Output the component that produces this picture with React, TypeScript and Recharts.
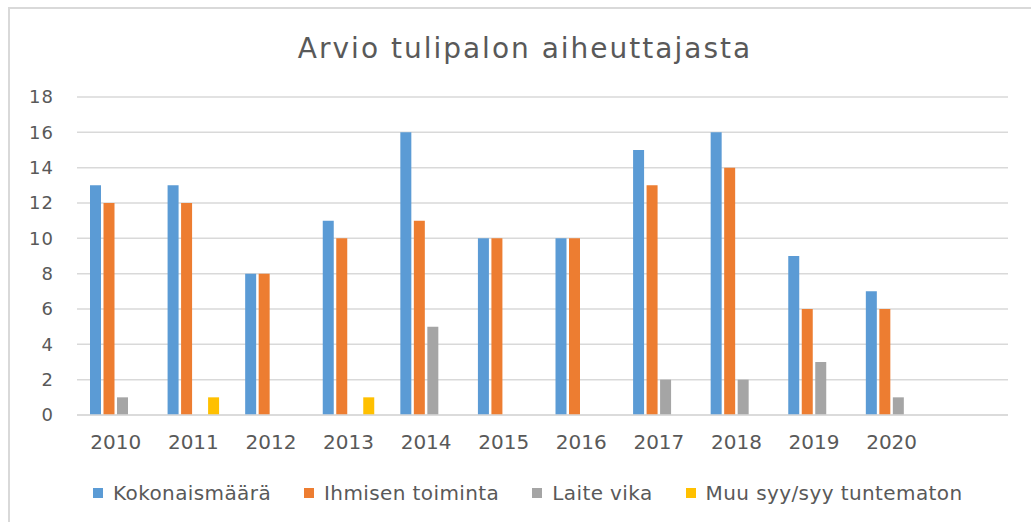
import { BarChart, Bar, XAxis, YAxis, CartesianGrid, Legend } from 'recharts'

const years = ['2010', '2011', '2012', '2013', '2014', '2015', '2016', '2017', '2018', '2019', '2020', '']
const kokonaismaara = [13, 13, 8, 11, 16, 10, 10, 15, 16, 9, 7, null]
const ihmisenToiminta = [12, 12, 8, 10, 11, 10, 10, 13, 14, 6, 6, null]
const laiteVika = [1, 0, 0, 0, 5, 0, 0, 2, 2, 3, 1, null]
const muuSyy = [0, 1, 0, 1, 0, 0, 0, 0, 0, 0, 0, null]
const yTicks = [0, 2, 4, 6, 8, 10, 12, 14, 16, 18]

const series = [
  { key: 'kokonais', name: 'Kokonaismäärä', color: '#5B9BD5' },
  { key: 'ihminen', name: 'Ihmisen toiminta', color: '#ED7D31' },
  { key: 'laite', name: 'Laite vika', color: '#A5A5A5' },
  { key: 'muu', name: 'Muu syy/syy tuntematon', color: '#FFC000' },
]

const data = years.map((year, i) => ({
  year,
  kokonais: kokonaismaara[i],
  ihminen: ihmisenToiminta[i],
  laite: laiteVika[i],
  muu: muuSyy[i],
}))

const font = '"DejaVu Sans", sans-serif'
const textColor = '#595959'

function LegendContent() {
  return (
    <div style={{ display: 'flex', height: 30, alignItems: 'center', fontFamily: font }}>
      {series.map((s) => (
        <div key={s.key} style={{ display: 'flex', alignItems: 'center', marginRight: 33 }}>
          <span style={{ width: 10, height: 10, background: s.color, marginRight: 10 }} />
          <span style={{ fontSize: 20, color: textColor, letterSpacing: 0.4 }}>{s.name}</span>
        </div>
      ))}
    </div>
  )
}

export default function App() {
  return (
    <div
      style={{
        position: 'fixed',
        left: 0,
        top: 0,
        width: 1031,
        height: 522,
        overflow: 'hidden',
        background: '#fff',
      }}
    >
      <div
        style={{
          position: 'absolute',
          left: 8,
          top: 7,
          width: 1200,
          height: 700,
          border: '2px solid #d9d9d9',
        }}
      />
      <div
        style={{
          position: 'absolute',
          left: 0,
          width: 1050,
          top: 35,
          textAlign: 'center',
          fontFamily: font,
          fontSize: 28,
          lineHeight: '28px',
          letterSpacing: 2,
          color: textColor,
        }}
      >
        Arvio tulipalon aiheuttajasta
      </div>
      <div style={{ position: 'absolute', left: 0, top: 0 }}>
        <BarChart
          width={1031}
          height={522}
          data={data}
          margin={{ top: 97, right: 23, left: 0, bottom: 0 }}
          barCategoryGap={13}
          barGap={2.5}
        >
          <CartesianGrid vertical={false} stroke="#d9d9d9" strokeWidth={1.5} />
          <XAxis
            dataKey="year"
            interval={0}
            height={77}
            tickLine={false}
            tickSize={0}
            tickMargin={20}
            axisLine={{ stroke: '#d9d9d9', strokeWidth: 1.5 }}
            tick={{ fill: textColor, fontSize: 20, fontFamily: font }}
          />
          <YAxis
            width={77}
            domain={[0, 18]}
            ticks={yTicks}
            interval={0}
            axisLine={false}
            tickLine={false}
            tickSize={0}
            tickMargin={23}
            tick={{ fill: textColor, fontSize: 18, fontFamily: font, letterSpacing: 1 }}
          />
          <Legend
            verticalAlign="bottom"
            content={LegendContent}
            wrapperStyle={{ left: 93, top: 478, width: 'auto' }}
          />
          {series.map((s) => (
            <Bar key={s.key} dataKey={s.key} name={s.name} fill={s.color} isAnimationActive={false} />
          ))}
        </BarChart>
      </div>
    </div>
  )
}
